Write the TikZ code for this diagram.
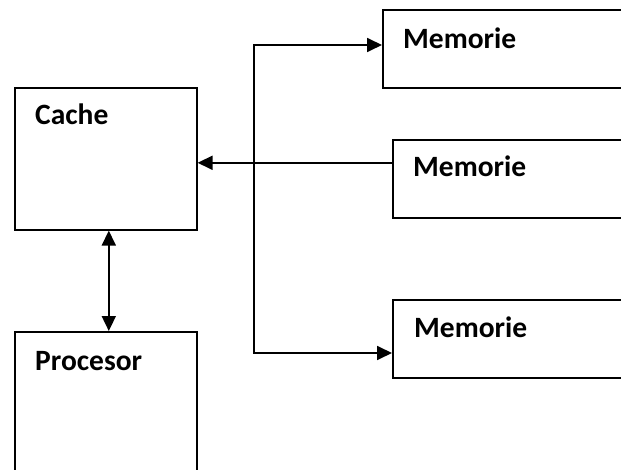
\documentclass[tikz,border=0pt]{standalone}
\usepackage{fontspec}
\setmainfont{Carlito}
\usetikzlibrary{arrows.meta}

\begin{document}
\begin{tikzpicture}[x=1pt, y=-1pt,
  box/.style={draw, line width=1.6pt, inner sep=0pt, anchor=north west},
  lbl/.style={anchor=base west, inner sep=0pt, font=\fontsize{29.5}{35}\selectfont\bfseries},
  link/.style={line width=1.8pt},
  tip/.tip={Triangle[length=15pt, width=14pt]}
]
\useasboundingbox (0,0) rectangle (621,470);
\clip (0,0) rectangle (621,470);

% blocks (Memorie boxes run off the right edge, Procesor off the bottom)
\node[box, minimum width=182pt, minimum height=142pt] (cache) at (14,87) {};
\node[box, minimum width=182pt, minimum height=200pt] (proc)  at (14,331) {};
\node[box, minimum width=300pt, minimum height=78pt]  (mem1)  at (382,9) {};
\node[box, minimum width=300pt, minimum height=78pt]  (mem2)  at (392,139) {};
\node[box, minimum width=300pt, minimum height=78pt]  (mem3)  at (392,299) {};

% captions
\node[lbl] (tcache) at (35,125) {Cache};
\node[lbl] (tproc)  at (35,370) {Procesor};
\node[lbl] (tmem1)  at (403,49) {Memorie};
\node[lbl] (tmem2)  at (413,177) {Memorie};
\node[lbl] (tmem3)  at (414,337) {Memorie};

% bus and feed points
\coordinate (busTop) at (254,45);
\coordinate (busBot) at (254,353);
\coordinate (m2in) at ([yshift=16pt]mem2.west);

% connectors
\draw[link, {tip}-{tip}] ([xshift=3pt]cache.south) -- ([xshift=3pt]proc.north);
\draw[link, {tip}-{tip}] (busTop -| mem1.west) -- (busTop) -- (busBot) -- (busBot -| mem3.west);
\draw[link, -{tip}] (m2in) -- (m2in -| cache.east);
\end{tikzpicture}
\end{document}
